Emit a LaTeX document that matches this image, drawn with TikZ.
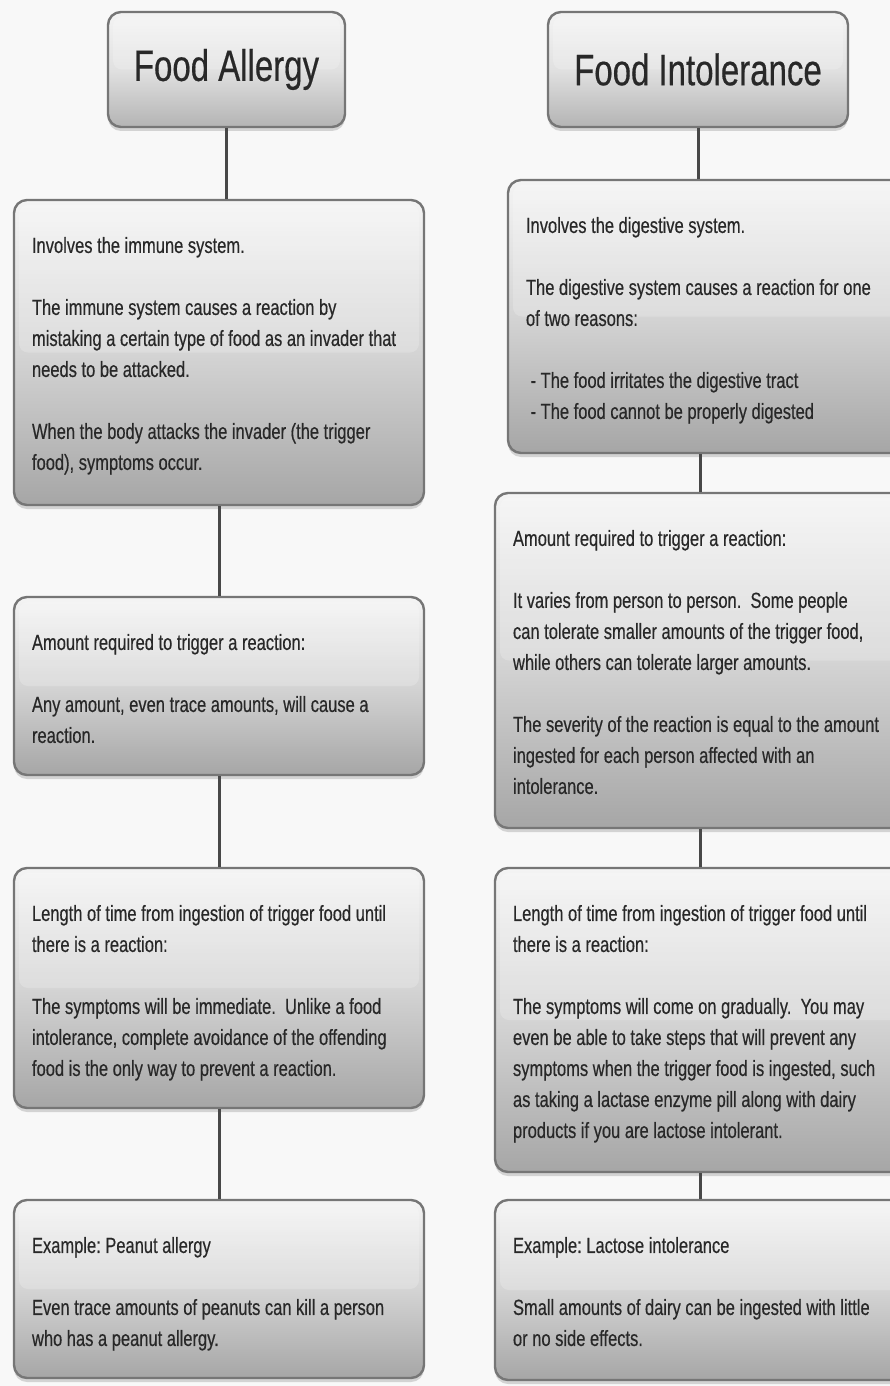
\documentclass[tikz,border=0pt]{standalone}
\usepackage{fontspec}
\setmainfont{Liberation Sans}[FakeStretch=0.75,FakeBold=0.4]
\usepackage{tikz}
\usetikzlibrary{shadows}
\usepackage{xcolor}
\definecolor{ColText}{RGB}{40,40,40}
\definecolor{ColEdge}{RGB}{118,118,118}
\definecolor{ColLink}{RGB}{72,72,72}
\definecolor{ColTop}{RGB}{244,244,244}
\definecolor{ColMid}{RGB}{212,212,212}
\definecolor{ColBot}{RGB}{166,166,166}
\definecolor{ColBack}{RGB}{248,248,248}
\frenchspacing
\tikzstyle{FlowBox}=[rounded corners=13pt,draw=ColEdge,line width=2.4pt,
top color=ColTop,bottom color=ColBot,middle color=ColMid,
drop shadow={opacity=0.3,shadow xshift=0pt,shadow yshift=-4pt},
path picture={\fill[white,opacity=0.2,rounded corners=9pt]
  ([shift={(5pt,-5pt)}]path picture bounding box.north west) rectangle
  ([shift={(-5pt,0pt)}]path picture bounding box.east);}]
\tikzstyle{TitleBox}=[FlowBox,bottom color=ColBot!70!ColMid,middle color=ColMid!60!ColTop,
font=\fontsize{44pt}{50pt}\selectfont,text=ColText]
\tikzstyle{BoxText}=[anchor=north west,align=left,inner sep=0pt,text=ColText,
font=\fontsize{22pt}{31pt}\selectfont]
\tikzstyle{EdgeLink}=[ColLink,line width=3pt]

\begin{document}
\begin{tikzpicture}[x=1pt,y=-1pt]
        \useasboundingbox (0,0) rectangle (890,1386);
        \fill[ColBack] (0,0) rectangle (890,1386);
        \clip (0,0) rectangle (890,1386);
        % left column
        \node[TitleBox,minimum width=237pt,minimum height=115pt](fa)at(226.5,69.5){Food Allergy};
        \node[FlowBox,minimum width=410pt,minimum height=305pt](a1)at(219,352.5){};
        \node[FlowBox,minimum width=410pt,minimum height=178pt](a2)at(219,686){};
        \node[FlowBox,minimum width=410pt,minimum height=240pt](a3)at(219,988){};
        \node[FlowBox,minimum width=410pt,minimum height=178pt](a4)at(219,1289){};
        % right column
        \node[TitleBox,minimum width=300pt,minimum height=115pt](fi)at(698,69.5){Food Intolerance};
        \node[FlowBox,minimum width=397pt,minimum height=273pt](i1)at(706.5,316.5){};
        \node[FlowBox,minimum width=410pt,minimum height=335pt](i2)at(700,660.5){};
        \node[FlowBox,minimum width=410pt,minimum height=304pt](i3)at(700,1020){};
        \node[FlowBox,minimum width=410pt,minimum height=180pt](i4)at(700,1290){};
        % links
        \draw[EdgeLink](fa.south)--(fa.south|-a1.north);
        \draw[EdgeLink](a1.south)--(a2.north);
        \draw[EdgeLink](a2.south)--(a3.north);
        \draw[EdgeLink](a3.south)--(a4.north);
        \draw[EdgeLink](fi.south)--(fi.south|-i1.north);
        \draw[EdgeLink](i2.north|-i1.south)--(i2.north);
        \draw[EdgeLink](i2.south)--(i3.north);
        \draw[EdgeLink](i3.south)--(i4.north);
        % texts
        \node[BoxText](ta1)at([shift={(19pt,-38pt)}]a1.north west){Involves the immune system.\\[31pt]
The immune system causes a reaction by\\
mistaking a certain type of food as an invader that\\
needs to be attacked.\\[31pt]
When the body attacks the invader (the trigger\\
food), symptoms occur.};
        \node[BoxText](ta2)at([shift={(19pt,-38pt)}]a2.north west){Amount required to trigger a reaction:\\[31pt]
Any amount, even trace amounts, will cause a\\
reaction.};
        \node[BoxText](ta3)at([shift={(19pt,-38pt)}]a3.north west){Length of time from ingestion of trigger food until\\
there is a reaction:\\[31pt]
The symptoms will be immediate.\ \ Unlike a food\\
intolerance, complete avoidance of the offending\\
food is the only way to prevent a reaction.};
        \node[BoxText](ta4)at([shift={(19pt,-38pt)}]a4.north west){Example: Peanut allergy\\[31pt]
Even trace amounts of peanuts can kill a person\\
who has a peanut allergy.};
        \node[BoxText](ti1)at([shift={(19pt,-38pt)}]i1.north west){Involves the digestive system.\\[31pt]
The digestive system causes a reaction for one\\
of two reasons:\\[31pt]
\ - The food irritates the digestive tract\\
\ - The food cannot be properly digested};
        \node[BoxText](ti2)at([shift={(19pt,-38pt)}]i2.north west){Amount required to trigger a reaction:\\[31pt]
It varies from person to person.\ \ Some people\\
can tolerate smaller amounts of the trigger food,\\
while others can tolerate larger amounts.\\[31pt]
The severity of the reaction is equal to the amount\\
ingested for each person affected with an\\
intolerance.};
        \node[BoxText](ti3)at([shift={(19pt,-38pt)}]i3.north west){Length of time from ingestion of trigger food until\\
there is a reaction:\\[31pt]
The symptoms will come on gradually.\ \ You may\\
even be able to take steps that will prevent any\\
symptoms when the trigger food is ingested, such\\
as taking a lactase enzyme pill along with dairy\\
products if you are lactose intolerant.};
        \node[BoxText](ti4)at([shift={(19pt,-38pt)}]i4.north west){Example: Lactose intolerance\\[31pt]
Small amounts of dairy can be ingested with little\\
or no side effects.};
    \end{tikzpicture}
\end{document}
